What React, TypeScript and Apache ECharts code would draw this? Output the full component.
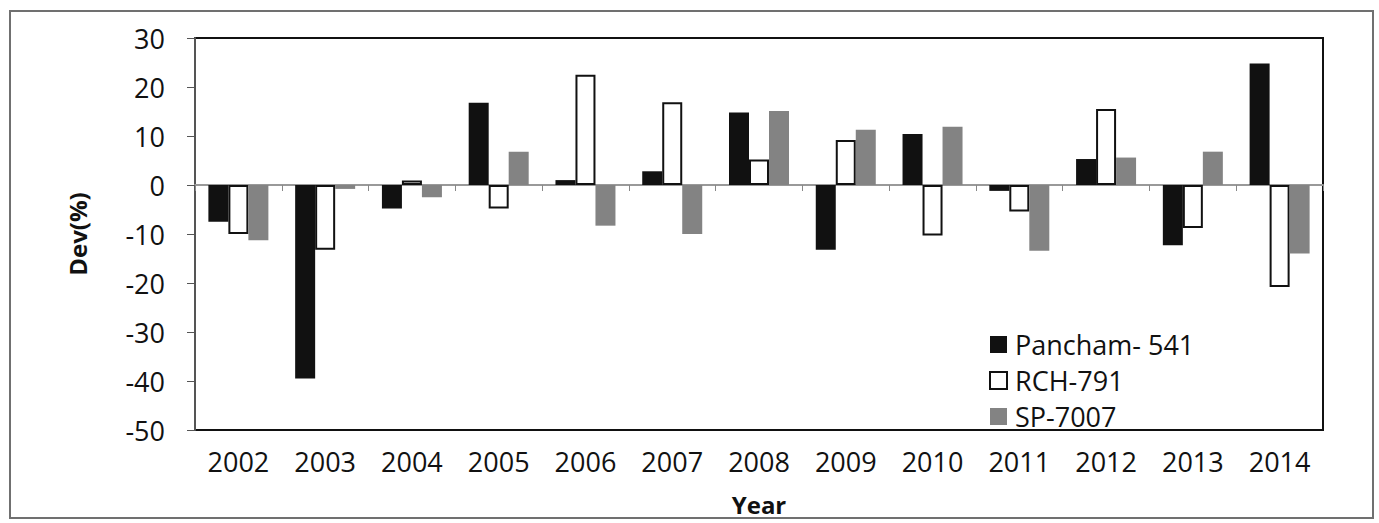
import React, { useEffect, useRef } from "react";
import * as echarts from "echarts";

const years = ["2002", "2003", "2004", "2005", "2006", "2007", "2008", "2009", "2010", "2011", "2012", "2013", "2014"];
const pancham = [-7.5, -39.5, -4.8, 16.8, 1.0, 2.8, 14.8, -13.2, 10.4, -1.2, 5.3, -12.3, 24.8];
const rch = [-10.0, -13.2, 0.9, -4.8, 22.5, 16.9, 5.2, 9.2, -10.3, -5.4, 15.5, -8.8, -20.8];
const sp = [-11.3, -0.8, -2.5, 6.8, -8.3, -10.0, 15.1, 11.3, 11.9, -13.4, 5.6, 6.8, -14.0];
const seriesNames = ["Pancham- 541", "RCH-791", "SP-7007"];

const FONT = "'Open Sans', 'DejaVu Sans', sans-serif";

export default function App() {
  const ref = useRef<HTMLDivElement>(null);
  useEffect(() => {
    if (!ref.current) return;
    const chart = echarts.init(ref.current, undefined, { renderer: "svg" });
    chart.setOption({
      animation: false,
      backgroundColor: "#ffffff",
      textStyle: { fontFamily: FONT },
      graphic: [
        {
          type: "rect",
          shape: { x: 10, y: 11, width: 1363, height: 507 },
          style: { fill: "none", stroke: "#707070", lineWidth: 2 },
          silent: true,
        },
      ],
      grid: {
        left: 195,
        right: 56,
        top: 38,
        bottom: 93,
        show: true,
        borderColor: "#111",
        borderWidth: 2,
        containLabel: false,
      },
      legend: {
        orient: "vertical",
        left: 984,
        top: 326,
        icon: "rect",
        itemWidth: 17,
        itemHeight: 17,
        itemGap: 9,
        data: seriesNames,
        textStyle: { fontFamily: FONT, fontSize: 27, color: "#111", padding: [0, 0, 0, 3] },
      },
      xAxis: [
        {
          type: "category",
          data: years,
          position: "bottom",
          axisLine: { show: false, onZero: false },
          axisTick: { show: false },
          axisLabel: { fontFamily: FONT, fontSize: 27, color: "#111", margin: 18 },
          name: "Year",
          nameLocation: "middle",
          nameGap: 62,
          nameTextStyle: { fontFamily: FONT, fontSize: 24, fontWeight: "bold", color: "#111" },
        },
        {
          type: "category",
          data: years,
          position: "top",
          axisLine: { show: true, onZero: true, lineStyle: { color: "#999", width: 2 } },
          axisTick: { show: true, inside: true, length: 6, lineStyle: { color: "#888", width: 1 } },
          axisLabel: { show: false },
        },
      ],
      yAxis: {
        type: "value",
        min: -50,
        max: 30,
        interval: 10,
        splitLine: { show: false },
        axisLine: { show: true, lineStyle: { color: "#555", width: 2 } },
        axisTick: { show: true, length: 8, lineStyle: { color: "#555" } },
        axisLabel: { fontFamily: FONT, fontSize: 27, color: "#111", margin: 30 },
        name: "Dev(%)",
        nameLocation: "middle",
        nameGap: 106,
        nameTextStyle: { fontFamily: FONT, fontSize: 24, fontWeight: "bold", color: "#111" },
      },
      series: [
        {
          name: seriesNames[0],
          type: "bar",
          data: pancham,
          barWidth: 20,
          barGap: "0%",
          itemStyle: { color: "#111111" },
        },
        {
          name: seriesNames[1],
          type: "bar",
          data: rch,
          barWidth: 20,
          barGap: "0%",
          itemStyle: { color: "#ffffff", borderColor: "#111111", borderWidth: 2 },
        },
        {
          name: seriesNames[2],
          type: "bar",
          data: sp,
          barWidth: 20,
          barGap: "0%",
          itemStyle: { color: "#838383" },
        },
      ],
    });
    return () => chart.dispose();
  }, []);
  return (
    <div
      ref={ref}
      style={{ position: "fixed", left: 0, top: 0, width: 1379, height: 523 }}
    />
  );
}
